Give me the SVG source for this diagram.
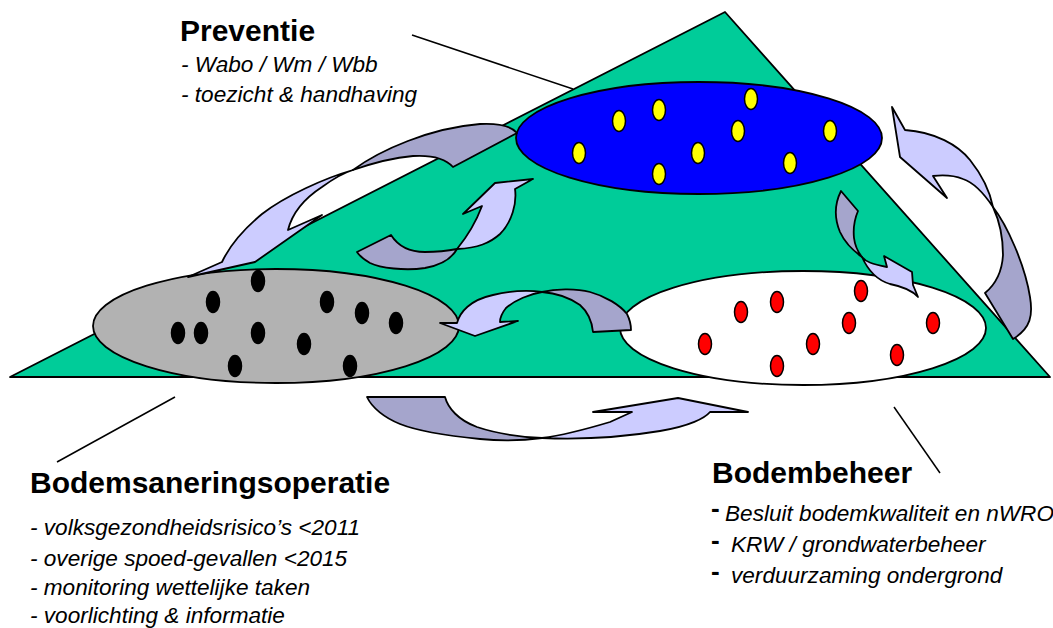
<svg xmlns="http://www.w3.org/2000/svg" width="1053" height="628" viewBox="0 0 1053 628">
<style>
.ol{stroke:#000;stroke-width:1.8;stroke-linejoin:round}
.lt{fill:#CCCCFF}
.dk{fill:#A5A5CC}
.ydot{fill:#FFFF00;stroke:#000;stroke-width:1.5}
.bdot{fill:#000;stroke:#000;stroke-width:1.5}
.rdot{fill:#FF0000;stroke:#000;stroke-width:1.5}
.ptr{stroke:#000;stroke-width:1.5;fill:none}
.hd{font-family:"Liberation Sans",Arial,sans-serif;font-weight:bold;font-size:30px;fill:#000}
.it{font-family:"Liberation Sans",Arial,sans-serif;font-style:italic;font-size:22.6px;fill:#000}
.dash{font-family:"Liberation Sans",Arial,sans-serif;font-weight:bold;font-size:26px;fill:#000}
</style>
<rect width="1053" height="628" fill="#FFFFFF"/>
<g id="triangle">
<polygon class="ol" points="725,12 1050,377 10,377" fill="#00CC99"/>
</g>
<g id="preventie-node">
<ellipse class="ol" cx="699" cy="138" rx="183" ry="56" fill="#0000FF"/>
<ellipse class="ydot" cx="579" cy="153" rx="6.5" ry="10.5"/>
<ellipse class="ydot" cx="619" cy="121" rx="6.5" ry="10.5"/>
<ellipse class="ydot" cx="659" cy="110" rx="6.5" ry="10.5"/>
<ellipse class="ydot" cx="659" cy="174" rx="6.5" ry="10.5"/>
<ellipse class="ydot" cx="698" cy="153" rx="6.5" ry="10.5"/>
<ellipse class="ydot" cx="738" cy="131" rx="6.5" ry="10.5"/>
<ellipse class="ydot" cx="751" cy="99" rx="6.5" ry="10.5"/>
<ellipse class="ydot" cx="790" cy="163" rx="6.5" ry="10.5"/>
<ellipse class="ydot" cx="830" cy="131" rx="6.5" ry="10.5"/>
</g>
<g id="bodemsanering-node">
<ellipse class="ol" cx="276" cy="326" rx="183" ry="57" fill="#B2B2B2"/>
<ellipse class="bdot" cx="258" cy="281" rx="6.5" ry="10.5"/>
<ellipse class="bdot" cx="213" cy="302" rx="6.5" ry="10.5"/>
<ellipse class="bdot" cx="327" cy="302" rx="6.5" ry="10.5"/>
<ellipse class="bdot" cx="362" cy="313" rx="6.5" ry="10.5"/>
<ellipse class="bdot" cx="396" cy="323" rx="6.5" ry="10.5"/>
<ellipse class="bdot" cx="178" cy="333" rx="6.5" ry="10.5"/>
<ellipse class="bdot" cx="201" cy="333" rx="6.5" ry="10.5"/>
<ellipse class="bdot" cx="258" cy="333" rx="6.5" ry="10.5"/>
<ellipse class="bdot" cx="304" cy="344" rx="6.5" ry="10.5"/>
<ellipse class="bdot" cx="235" cy="366" rx="6.5" ry="10.5"/>
<ellipse class="bdot" cx="350" cy="366" rx="6.5" ry="10.5"/>
</g>
<g id="bodembeheer-node">
<ellipse class="ol" cx="803" cy="328" rx="183" ry="57" fill="#FFFFFF"/>
<ellipse class="rdot" cx="705" cy="344" rx="6.5" ry="10.5"/>
<ellipse class="rdot" cx="741" cy="312" rx="6.5" ry="10.5"/>
<ellipse class="rdot" cx="777" cy="302" rx="6.5" ry="10.5"/>
<ellipse class="rdot" cx="777" cy="366" rx="6.5" ry="10.5"/>
<ellipse class="rdot" cx="813" cy="344" rx="6.5" ry="10.5"/>
<ellipse class="rdot" cx="849" cy="323" rx="6.5" ry="10.5"/>
<ellipse class="rdot" cx="861" cy="291" rx="6.5" ry="10.5"/>
<ellipse class="rdot" cx="897" cy="355" rx="6.5" ry="10.5"/>
<ellipse class="rdot" cx="933" cy="323" rx="6.5" ry="10.5"/>
</g>
<g id="connectors">
<!-- A: top-left big arrow -->
<path class="ol dk" d="M353,170 C380,150 430,128 480,124 C500,123 512,127 517,133 L453,167 C445,158 430,155 413,156 C390,158 370,164 353,170 Z"/>
<path class="ol lt" d="M353,170 C325,178 285,196 262,214 C245,228 230,245 222,262 L188,277 L255,262 L322,215 L288,230 C292,214 302,200 322,187 C333,179 343,173 353,170 Z"/>
<!-- B: small up arrow -->
<path class="ol dk" d="M357,252 L391,235 C398,246 410,252 425,252 C437,252 447,251 457,249 C452,258 442,265 425,268 C405,271 380,268 370,263 C363,259 359,255 357,252 Z"/>
<path class="ol lt" d="M457,249 C466,238 476,222 482,206 L463,214 L495,183 L533,179 L515,189 C517,203 512,222 500,234 C490,243 478,248 457,249 Z"/>
<!-- C: right big arrow -->
<path class="ol lt" d="M892,107 L905,130 C935,132 958,145 970,160 C982,175 990,192 993,207 C985,195 975,183 963,179 C953,175 942,175 933,176 L947,198 L900,157 Z"/>
<path class="ol dk" d="M993,207 C1007,225 1025,265 1030,297 C1033,315 1031,328 1013,339 L985,293 C996,284 1002,272 1003,255 C1003,238 999,220 993,207 Z"/>
<!-- D: small right arrow -->
<path class="ol dk" d="M841,191 L858,211 C855,218 853,228 854,238 C855,246 858,252 862,257 C855,252 845,243 840,232 C835,220 834,205 841,191 Z"/>
<path class="ol lt" d="M862,257 C866,262 872,264 887,267 L884,256 L912,272 L913,285 L918,297 C912,290 900,286 890,284 C880,281 870,275 862,257 Z"/>
<!-- E: middle arrow -->
<path class="ol dk" d="M542,292 C555,289 575,288 590,292 C605,296 620,305 627,314 C630,320 631,325 631,330 L593,332 C592,322 588,312 580,305 C570,298 555,293 542,292 Z"/>
<path class="ol lt" d="M475,336 L440,323 L457,323 C460,312 470,300 493,295 C510,291 528,290 542,292 C530,294 515,300 506,308 C502,313 500,318 500,322 L518,321 Z"/>
<!-- F: bottom arrow -->
<path class="ol dk" d="M367,397 L445,397 C448,408 458,420 477,427 C495,433 520,437 542,438 C520,441 500,441 480,439 C450,436 420,432 400,424 C385,418 372,408 367,397 Z"/>
<path class="ol lt" d="M542,438 C565,435 590,428 610,422 L632,412 L593,412 L678,398 L748,412 L710,412 C705,418 690,426 660,431 C630,436 590,440 542,438 Z"/>
</g>
<g id="pointers">
<line class="ptr" x1="412" y1="35" x2="573" y2="89"/>
<line class="ptr" x1="57" y1="462" x2="175" y2="397"/>
<line class="ptr" x1="894" y1="407" x2="940" y2="473"/>
</g>
<g id="label-preventie">
<text class="hd" x="180" y="41">Preventie</text>
<text class="it" x="181" y="72" font-size="18">- Wabo / Wm / Wbb</text>
<text class="it" x="181" y="102" font-size="22">- toezicht &amp; handhaving</text>
</g>
<g id="label-bodemsanering">
<text class="hd" x="30" y="493">Bodemsaneringsoperatie</text>
<text class="it" x="30" y="535">- volksgezondheidsrisico’s &lt;2011</text>
<text class="it" x="30" y="566">- overige spoed-gevallen &lt;2015</text>
<text class="it" x="30" y="595">- monitoring wettelijke taken</text>
<text class="it" x="30" y="623">- voorlichting &amp; informatie</text>
</g>
<g id="label-bodembeheer">
<text class="hd" x="712" y="483" font-size="29">Bodembeheer</text>
<text x="711" y="516.5"><tspan class="dash">-</tspan><tspan class="it" x="725" y="521">Besluit bodemkwaliteit en nWRO</tspan></text>
<text x="711" y="548.5"><tspan class="dash">-</tspan><tspan class="it" x="731" y="552">KRW / grondwaterbeheer</tspan></text>
<text x="711" y="580"><tspan class="dash">-</tspan><tspan class="it" x="731" y="583">verduurzaming ondergrond</tspan></text>
</g>
</svg>
